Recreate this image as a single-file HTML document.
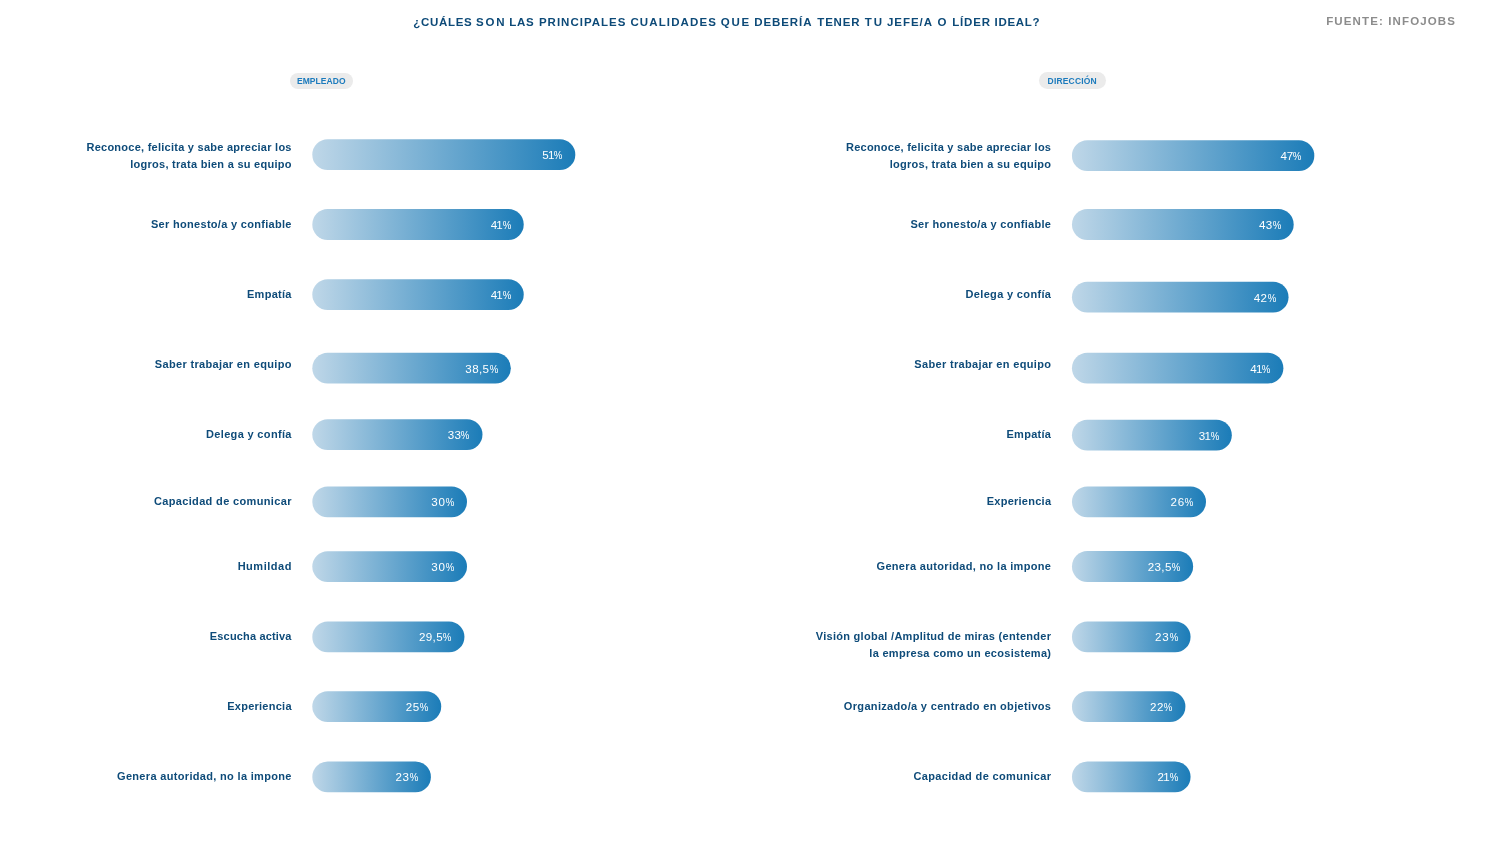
<!DOCTYPE html>
<html lang="es">
<head>
<meta charset="utf-8">
<title>¿Cuáles son las principales cualidades que debería tener tu jefe/a o líder ideal?</title>
<style>
html,body{margin:0;padding:0;background:#fff;}
body{width:1496px;height:847px;position:relative;overflow:hidden;font-family:"Liberation Sans",sans-serif;}
.title{position:absolute;left:0;top:15.1px;width:1496px;height:14px;font-weight:bold;font-size:11.5px;line-height:14px;letter-spacing:0.987px;color:#0d4a78;white-space:nowrap;margin:0;}
.title span{position:absolute;top:0;}
.src{position:absolute;left:1326.2px;top:13.7px;font-weight:bold;font-size:11.5px;line-height:14px;letter-spacing:1.13px;color:#8c8c8c;white-space:nowrap;}
.pill{position:absolute;background:#ebebeb;border-radius:9px;color:#1c7bbd;font-weight:bold;font-size:8.5px;line-height:10px;white-space:nowrap;box-sizing:border-box;text-align:center;}
.lab{position:absolute;text-align:right;font-weight:bold;font-size:11px;line-height:17px;color:#0e4b79;white-space:nowrap;}
.lab span{display:block;}
.bars{position:absolute;left:0;top:0;width:1496px;height:847px;display:block;}
.bar{position:absolute;height:30.8px;}
.bar b i{font-style:normal;margin:0 -0.2px 0 -0.5px;}
.bar b u{display:inline-block;text-decoration:none;transform:scaleX(.83);transform-origin:100% 50%;margin-left:-1.7px;}
.bar b{position:absolute;right:12.7px;line-height:14px;font-weight:normal;font-size:11.6px;color:#fff;white-space:nowrap;}
</style>
</head>
<body>
<h1 class="title"><span style="left:413.3px;letter-spacing:0.675px">¿CUÁLES</span> <span style="left:476.1px;letter-spacing:1.775px">SON</span> <span style="left:509.35px;letter-spacing:0.725px">LAS</span> <span style="left:538.95px;letter-spacing:1.005px">PRINCIPALES</span> <span style="left:630.4px;letter-spacing:1.122px">CUALIDADES</span> <span style="left:720.8px;letter-spacing:1.75px">QUE</span> <span style="left:754.35px;letter-spacing:0.892px">DEBERÍA</span> <span style="left:817.3px;letter-spacing:0.812px">TENER</span> <span style="left:864.7px;letter-spacing:2.05px">TU</span> <span style="left:886.95px;letter-spacing:0.97px">JEFE/A</span> <span style="left:937.5px;letter-spacing:0px">O</span> <span style="left:952.15px;letter-spacing:0.825px">LÍDER</span> <span style="left:994.55px;letter-spacing:0.71px">IDEAL?</span></h1>
<div class="src">FUENTE: INFOJOBS</div>
<div class="pill" style="left:289.8px;top:72.8px;width:63px;height:16.3px;padding-top:3.6px;letter-spacing:0.05px;">EMPLEADO</div>
<div class="pill" style="left:1039px;top:72px;width:66.5px;height:17.1px;padding-top:4.4px;letter-spacing:0.18px;">DIRECCIÓN</div>
<svg class="bars" width="1496" height="847" viewBox="0 0 1496 847" aria-hidden="true">
<defs><linearGradient id="g" x1="0" y1="0" x2="1" y2="0"><stop offset="0" stop-color="#bfd7e8"/><stop offset="1" stop-color="#1b7cb8"/></linearGradient></defs>
<rect x="312.3" y="139.3" width="263.01" height="30.8" rx="15.4" fill="url(#g)"/>
<rect x="312.3" y="209.1" width="211.44" height="30.8" rx="15.4" fill="url(#g)"/>
<rect x="312.3" y="279.2" width="211.44" height="30.8" rx="15.4" fill="url(#g)"/>
<rect x="312.3" y="352.8" width="198.54" height="30.8" rx="15.4" fill="url(#g)"/>
<rect x="312.3" y="419.2" width="170.18" height="30.8" rx="15.4" fill="url(#g)"/>
<rect x="312.3" y="486.5" width="154.71" height="30.8" rx="15.4" fill="url(#g)"/>
<rect x="312.3" y="551.2" width="154.71" height="30.8" rx="15.4" fill="url(#g)"/>
<rect x="312.3" y="621.5" width="152.13" height="30.8" rx="15.4" fill="url(#g)"/>
<rect x="312.3" y="691.2" width="128.93" height="30.8" rx="15.4" fill="url(#g)"/>
<rect x="312.3" y="761.5" width="118.61" height="30.8" rx="15.4" fill="url(#g)"/>
<rect x="1071.95" y="140.3" width="242.38" height="30.8" rx="15.4" fill="url(#g)"/>
<rect x="1071.95" y="209.1" width="221.75" height="30.8" rx="15.4" fill="url(#g)"/>
<rect x="1071.95" y="281.8" width="216.59" height="30.8" rx="15.4" fill="url(#g)"/>
<rect x="1071.95" y="352.8" width="211.44" height="30.8" rx="15.4" fill="url(#g)"/>
<rect x="1071.95" y="419.8" width="159.87" height="30.8" rx="15.4" fill="url(#g)"/>
<rect x="1071.95" y="486.5" width="134.08" height="30.8" rx="15.4" fill="url(#g)"/>
<rect x="1071.95" y="551.1" width="121.19" height="30.8" rx="15.4" fill="url(#g)"/>
<rect x="1071.95" y="621.5" width="118.61" height="30.8" rx="15.4" fill="url(#g)"/>
<rect x="1071.95" y="691.3" width="113.45" height="30.8" rx="15.4" fill="url(#g)"/>
<rect x="1071.95" y="761.5" width="118.61" height="30.8" rx="15.4" fill="url(#g)"/>
</svg>
<section class="empleado">
<div class="lab" style="right:1204.5px;top:138.59px"><span style="letter-spacing:0.254px;margin-right:-0.254px">Reconoce, felicita y sabe apreciar los</span><span style="letter-spacing:0.271px;margin-right:-0.271px">logros, trata bien a su equipo</span></div>
<div class="bar" style="left:312.3px;top:139.3px;width:263.0px"><b style="top:8.78px;letter-spacing:-0.250px;margin-right:0.250px">5<i>1</i><u>%</u></b></div>
<div class="lab" style="right:1204.5px;top:215.59px"><span style="letter-spacing:0.302px;margin-right:-0.302px">Ser honesto/a y confiable</span></div>
<div class="bar" style="left:312.3px;top:209.1px;width:211.4px"><b style="top:8.98px;letter-spacing:-0.250px;margin-right:0.250px">4<i>1</i><u>%</u></b></div>
<div class="lab" style="right:1204.5px;top:285.99px"><span style="letter-spacing:0.292px;margin-right:-0.292px">Empatía</span></div>
<div class="bar" style="left:312.3px;top:279.2px;width:211.4px"><b style="top:8.88px;letter-spacing:-0.250px;margin-right:0.250px">4<i>1</i><u>%</u></b></div>
<div class="lab" style="right:1204.5px;top:356.09px"><span style="letter-spacing:0.337px;margin-right:-0.337px">Saber trabajar en equipo</span></div>
<div class="bar" style="left:312.3px;top:352.8px;width:198.5px"><b style="top:9.28px;letter-spacing:0.400px;margin-right:-0.400px">38,5<u>%</u></b></div>
<div class="lab" style="right:1204.5px;top:425.59px"><span style="letter-spacing:0.343px;margin-right:-0.343px">Delega y confía</span></div>
<div class="bar" style="left:312.3px;top:419.2px;width:170.2px"><b style="top:8.88px;letter-spacing:0.200px;margin-right:-0.200px">33<u>%</u></b></div>
<div class="lab" style="right:1204.5px;top:493.19px"><span style="letter-spacing:0.352px;margin-right:-0.352px">Capacidad de comunicar</span></div>
<div class="bar" style="left:312.3px;top:486.5px;width:154.7px"><b style="top:8.58px;letter-spacing:0.700px;margin-right:-0.700px">30<u>%</u></b></div>
<div class="lab" style="right:1204.5px;top:557.59px"><span style="letter-spacing:0.536px;margin-right:-0.536px">Humildad</span></div>
<div class="bar" style="left:312.3px;top:551.2px;width:154.7px"><b style="top:8.88px;letter-spacing:0.700px;margin-right:-0.700px">30<u>%</u></b></div>
<div class="lab" style="right:1204.5px;top:627.89px"><span style="letter-spacing:0.169px;margin-right:-0.169px">Escucha activa</span></div>
<div class="bar" style="left:312.3px;top:621.5px;width:152.1px"><b style="top:8.58px;letter-spacing:0.400px;margin-right:-0.400px">29,5<u>%</u></b></div>
<div class="lab" style="right:1204.5px;top:698.09px"><span style="letter-spacing:0.255px;margin-right:-0.255px">Experiencia</span></div>
<div class="bar" style="left:312.3px;top:691.2px;width:128.9px"><b style="top:8.88px;letter-spacing:0.600px;margin-right:-0.600px">25<u>%</u></b></div>
<div class="lab" style="right:1204.5px;top:767.59px"><span style="letter-spacing:0.326px;margin-right:-0.326px">Genera autoridad, no la impone</span></div>
<div class="bar" style="left:312.3px;top:761.5px;width:118.6px"><b style="top:8.58px;letter-spacing:0.600px;margin-right:-0.600px">23<u>%</u></b></div>
</section>
<section class="direccion">
<div class="lab" style="right:445.0px;top:138.59px"><span style="letter-spacing:0.254px;margin-right:-0.254px">Reconoce, felicita y sabe apreciar los</span><span style="letter-spacing:0.271px;margin-right:-0.271px">logros, trata bien a su equipo</span></div>
<div class="bar" style="left:1071.95px;top:140.3px;width:242.4px"><b style="top:8.78px;letter-spacing:-0.200px;margin-right:0.200px">47<u>%</u></b></div>
<div class="lab" style="right:445.0px;top:215.59px"><span style="letter-spacing:0.302px;margin-right:-0.302px">Ser honesto/a y confiable</span></div>
<div class="bar" style="left:1071.95px;top:209.1px;width:221.8px"><b style="top:8.98px;letter-spacing:0.200px;margin-right:-0.200px">43<u>%</u></b></div>
<div class="lab" style="right:445.0px;top:285.99px"><span style="letter-spacing:0.343px;margin-right:-0.343px">Delega y confía</span></div>
<div class="bar" style="left:1071.95px;top:281.8px;width:216.6px"><b style="top:9.28px;letter-spacing:0.300px;margin-right:-0.300px">42<u>%</u></b></div>
<div class="lab" style="right:445.0px;top:356.09px"><span style="letter-spacing:0.337px;margin-right:-0.337px">Saber trabajar en equipo</span></div>
<div class="bar" style="left:1071.95px;top:352.8px;width:211.4px"><b style="top:9.28px;letter-spacing:-0.250px;margin-right:0.250px">4<i>1</i><u>%</u></b></div>
<div class="lab" style="right:445.0px;top:425.59px"><span style="letter-spacing:0.292px;margin-right:-0.292px">Empatía</span></div>
<div class="bar" style="left:1071.95px;top:419.8px;width:159.9px"><b style="top:9.28px;letter-spacing:-0.250px;margin-right:0.250px">3<i>1</i><u>%</u></b></div>
<div class="lab" style="right:445.0px;top:493.19px"><span style="letter-spacing:0.255px;margin-right:-0.255px">Experiencia</span></div>
<div class="bar" style="left:1071.95px;top:486.5px;width:134.1px"><b style="top:8.58px;letter-spacing:0.600px;margin-right:-0.600px">26<u>%</u></b></div>
<div class="lab" style="right:445.0px;top:557.59px"><span style="letter-spacing:0.326px;margin-right:-0.326px">Genera autoridad, no la impone</span></div>
<div class="bar" style="left:1071.95px;top:551.1px;width:121.2px"><b style="top:8.98px;letter-spacing:0.400px;margin-right:-0.400px">23,5<u>%</u></b></div>
<div class="lab" style="right:445.0px;top:627.89px"><span style="letter-spacing:0.287px;margin-right:-0.287px">Visión global /Amplitud de miras (entender</span><span style="letter-spacing:0.298px;margin-right:-0.298px">la empresa como un ecosistema)</span></div>
<div class="bar" style="left:1071.95px;top:621.5px;width:118.6px"><b style="top:8.58px;letter-spacing:0.600px;margin-right:-0.600px">23<u>%</u></b></div>
<div class="lab" style="right:445.0px;top:698.09px"><span style="letter-spacing:0.330px;margin-right:-0.330px">Organizado/a y centrado en objetivos</span></div>
<div class="bar" style="left:1071.95px;top:691.3px;width:113.5px"><b style="top:8.78px;letter-spacing:0.600px;margin-right:-0.600px">22<u>%</u></b></div>
<div class="lab" style="right:445.0px;top:767.59px"><span style="letter-spacing:0.352px;margin-right:-0.352px">Capacidad de comunicar</span></div>
<div class="bar" style="left:1071.95px;top:761.5px;width:118.6px"><b style="top:8.58px;letter-spacing:-0.250px;margin-right:0.250px">2<i>1</i><u>%</u></b></div>
</section>
</body>
</html>
